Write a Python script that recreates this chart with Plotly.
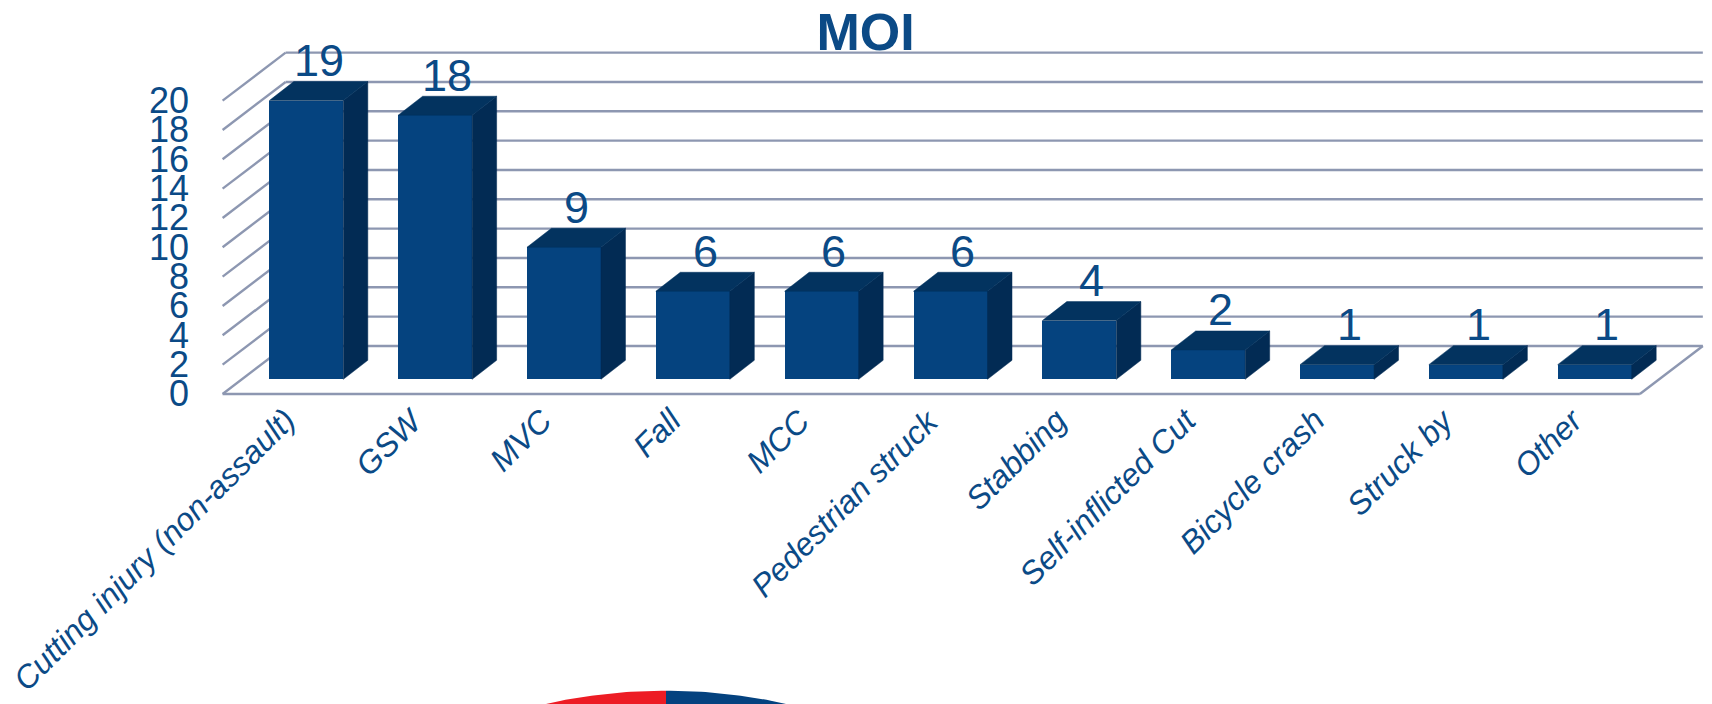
import numpy as np
import plotly.graph_objects as go

# ---- data -------------------------------------------------------------
categories = ["Cutting injury (non-assault)", "GSW", "MVC", "Fall", "MCC",
              "Pedestrian struck", "Stabbing", "Self-inflicted Cut",
              "Bicycle crash", "Struck by", "Other"]
counts = [19, 18, 9, 6, 6, 6, 4, 2, 1, 1, 1]
y_ticks = [0, 2, 4, 6, 8, 10, 12, 14, 16, 18, 20]
title_text = "MOI"

# ---- look -------------------------------------------------------------
W, H = 1712, 704
PX_X = 128.84          # pixels per category step
PX_Y = 14.67           # pixels per count unit
X0_PX = 306.3          # pixel of first category centre (bar front plane)
Y0_PX = 379.3          # pixel of zero (bar front plane)

FRONT_C = "#05437F"
TOP_C = "#03335F"
SIDE_C = "#022B54"
TEXT_C = "#0B4A86"
GRID_C = "#8D97B1"
FONT = "Liberation Sans, Arial, sans-serif"


def dx(px):
    return px / PX_X


def dy(px):
    return px / PX_Y


# depth offsets (pixels) of the 3D box, relative to the bar front plane
WALL_DX, WALL_DY = 63.0, 48.0
BAR_FRAC0 = 0.306                      # bar front plane as fraction of depth
FRONT_OX, FRONT_OY = -dx(WALL_DX * BAR_FRAC0), -dy(WALL_DY * BAR_FRAC0)
BACK_OX, BACK_OY = dx(WALL_DX * (1 - BAR_FRAC0)), dy(WALL_DY * (1 - BAR_FRAC0))
BDX, BDY = dx(24.5), dy(19.0)          # bar depth
HALF_W = dx(37.0)                      # half bar width

n = len(categories)
idx = np.arange(n)
x_lo, x_hi = -0.5, n - 0.5

fig = go.Figure()

# ---- walls: back-wall gridlines, side-wall diagonals, floor ----------
segments = []
for v in y_ticks:
    segments.append((x_lo + BACK_OX, v + BACK_OY, x_hi + BACK_OX, v + BACK_OY))
    segments.append((x_lo + FRONT_OX, v + FRONT_OY, x_lo + BACK_OX, v + BACK_OY))
segments.append((x_lo + FRONT_OX, FRONT_OY, x_hi + FRONT_OX, FRONT_OY))
segments.append((x_hi + FRONT_OX, FRONT_OY, x_hi + BACK_OX, BACK_OY))
for x0, y0, x1, y1 in segments:
    fig.add_shape(type="line", xref="x", yref="y", x0=x0, y0=y0, x1=x1, y1=y1,
                  line=dict(color=GRID_C, width=2.4), layer="below")

# ---- bars -------------------------------------------------------------
fig.add_trace(go.Bar(x=idx, y=counts, width=2 * HALF_W,
                     marker=dict(color=FRONT_C, line=dict(width=0)),
                     hoverinfo="skip", showlegend=False))
sx, sy, tx, ty = [], [], [], []
for i, v in zip(idx, counts):
    xl, xr = i - HALF_W, i + HALF_W
    sx += [xr, xr + BDX, xr + BDX, xr, xr, None]
    sy += [0, BDY, v + BDY, v, 0, None]
    tx += [xl, xr, xr + BDX, xl + BDX, xl, None]
    ty += [v, v, v + BDY, v + BDY, v, None]
fig.add_trace(go.Scatter(x=sx, y=sy, mode="lines", fill="toself",
                         fillcolor=SIDE_C, line=dict(color=SIDE_C, width=0.5),
                         hoverinfo="skip", showlegend=False))
fig.add_trace(go.Scatter(x=tx, y=ty, mode="lines", fill="toself",
                         fillcolor=TOP_C, line=dict(color=TOP_C, width=0.5),
                         hoverinfo="skip", showlegend=False))

# ---- value labels ----------------------------------------------------
for i, v in zip(idx, counts):
    fig.add_annotation(x=i + BDX / 2, y=v + BDY + dy(21), text=str(v),
                       showarrow=False, xanchor="center", yanchor="middle",
                       font=dict(family=FONT, size=45, color=TEXT_C))

# ---- y tick labels (front edge of the left wall) ----------------------
for v in y_ticks:
    fig.add_annotation(x=dx(191 - X0_PX), y=v + FRONT_OY, text=str(v),
                       showarrow=False, xanchor="right", yanchor="middle",
                       font=dict(family=FONT, size=36, color=TEXT_C))

# ---- category labels --------------------------------------------------
for i, name in zip(idx, categories):
    fig.add_annotation(x=i - dx(2), y=-dy(399 - Y0_PX), text=name,
                       showarrow=False, xanchor="right", yanchor="top",
                       textangle=-45,
                       font=dict(family=FONT, size=32, color=TEXT_C,
                                 style="italic"))

# ---- top of the pie chart below ----------------------------------------
PIE_R_PX = 557.0
PIE_CX_PX, PIE_TOP_PX = 666.0, 690.7
pie_colors = ["#04427F", "#ED1C24"]
th_r = np.linspace(np.pi / 2, 0, 200)          # right half, clockwise from top
th_l = np.linspace(np.pi / 2, np.pi, 200)      # left half
for th, col in zip([th_r, th_l], pie_colors):
    px = np.concatenate([[0], np.cos(th), [0]])
    py = np.concatenate([[0], np.sin(th), [0]])
    fig.add_trace(go.Scatter(x=px, y=py, xaxis="x2", yaxis="y2",
                             mode="lines", fill="toself", fillcolor=col,
                             line=dict(width=0), hoverinfo="skip",
                             showlegend=False))

fig.update_layout(
    width=W, height=H,
    margin=dict(l=0, r=0, t=0, b=0),
    paper_bgcolor="white", plot_bgcolor="rgba(0,0,0,0)",
    bargap=0,
    title=dict(text="<b>%s</b>" % title_text, x=865.5 / W, y=1 - 32 / H,
               xanchor="center", yanchor="middle",
               font=dict(family=FONT, size=52, color=TEXT_C)),
    xaxis=dict(range=[dx(-X0_PX), dx(W - X0_PX)], visible=False,
               fixedrange=True),
    yaxis=dict(range=[-dy(H - Y0_PX), dy(Y0_PX)], visible=False,
               fixedrange=True),
    xaxis2=dict(range=[-PIE_CX_PX / PIE_R_PX, (W - PIE_CX_PX) / PIE_R_PX],
                domain=[0, 1], anchor="y2", visible=False),
    yaxis2=dict(range=[1 - (H - PIE_TOP_PX) / PIE_R_PX,
                       1 + PIE_TOP_PX / PIE_R_PX],
                domain=[0, 1], anchor="x2", visible=False),
)

fig.write_html("out.html")
